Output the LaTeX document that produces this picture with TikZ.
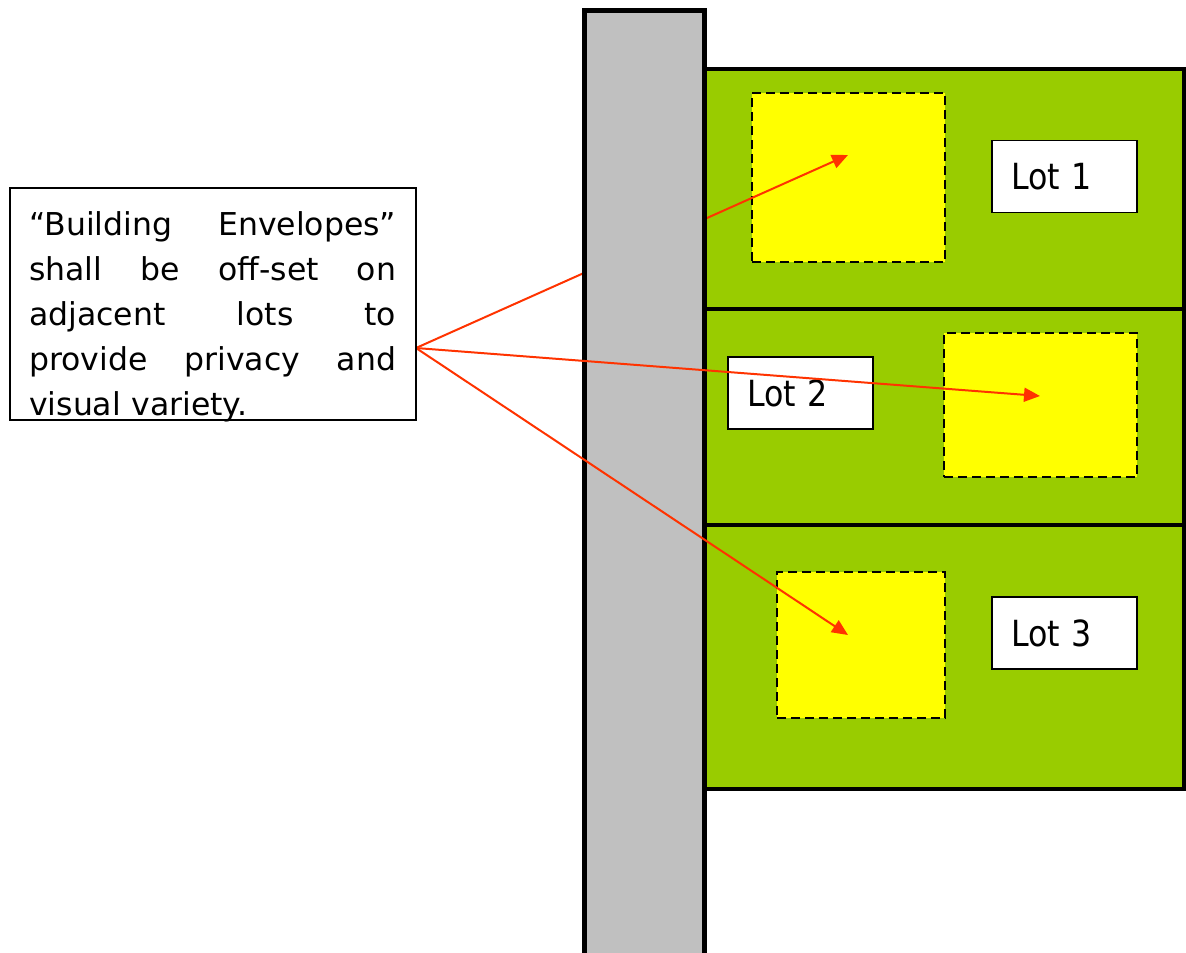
\documentclass[tikz,border=0pt]{standalone}
\usepackage{fontspec}
\setmainfont{DejaVu Sans}
\newfontfamily\lotfont[FakeStretch=0.88]{DejaVu Sans}
\usetikzlibrary{arrows.meta, positioning}
\definecolor{roadgray}{RGB}{192,192,192}
\definecolor{lotgreen}{RGB}{153,204,0}
\definecolor{envyellow}{RGB}{255,255,0}
\definecolor{pointerred}{RGB}{255,51,0}
\tikzset{
        x=1pt, y=-1pt, % one unit per pixel, y runs downwards
        road/.style={draw, line width=5pt, fill=roadgray, minimum width=120pt}, % the street
        lot/.style={draw, line width=4pt, fill=lotgreen, minimum width=479.5pt}, % one lot
        envelope/.style={draw, line width=2.5pt, dash pattern=on 9pt off 5pt, fill=envyellow}, % building envelope
        lotlabel/.style={draw, line width=1.5pt, fill=white, minimum height=72pt, text width=107pt,
                         inner xsep=19pt, inner ysep=0pt, align=left, font=\lotfont\fontsize{36}{40}\selectfont},
        notebox/.style={draw, line width=2pt, fill=white},
        notetext/.style={text width=367pt, inner sep=0pt, align=left, font=\fontsize{31.5}{45}\selectfont},
        pointer/.style={-{Triangle[length=16pt, width=14pt]}, line width=2pt, draw=pointerred},
    }

\begin{document}
\begin{tikzpicture}
    \useasboundingbox (0,0) rectangle (1186,953);
    % lots
    \node[lot, minimum height=240pt] (lot1) at (944.25,189) {};
    \node[lot, minimum height=216pt] (lot2) at (944.25,417) {};
    \node[lot, minimum height=264pt] (lot3) at (944.25,657) {};
    % envelopes and labels
    \node[envelope, minimum width=193pt, minimum height=169pt] (env1) at (848.5,177.5) {};
    \node[envelope, minimum width=193pt, minimum height=144pt] (env2) at (1040.5,405) {};
    \node[envelope, minimum width=168pt, minimum height=146pt] (env3) at (861,645) {};
    \node[lotlabel] (lab1) at (1064.5,176.5) {Lot 1};
    \node[lotlabel] (lab2) at (800.5,393) {Lot 2};
    \node[lotlabel] (lab3) at (1064.5,633) {Lot 3};
    % pointers
    \coordinate (fan) at (416,348);
    \coordinate (tip1) at (848,155);
    \coordinate (tip2) at (1040,396);
    \coordinate (tip3) at (848,635);
    \draw[pointer] (fan) -- (tip1);
    \node[road, minimum height=969.5pt] (road) at (644.5,495.25) {};
    \draw[pointer] (fan) -- (tip2);
    \draw[pointer] (fan) -- (tip3);
    % note
    \node[notebox, minimum width=406pt, minimum height=232pt] (note) at (213,304) {};
    \begin{scope}
      \clip (note.south west) rectangle (note.north east);
      \node[notetext, anchor=base west] (notetext) at (29,235) {%
        \makebox[\linewidth][s]{“Building\hfill Envelopes”}\\
        \makebox[\linewidth][s]{shall\hfill be\hfill off-set\hfill on}\\
        \makebox[\linewidth][s]{adjacent\hfill lots\hfill to}\\
        \makebox[\linewidth][s]{provide\hfill privacy\hfill and}\\
        visual variety.};
    \end{scope}
\end{tikzpicture}
\end{document}
